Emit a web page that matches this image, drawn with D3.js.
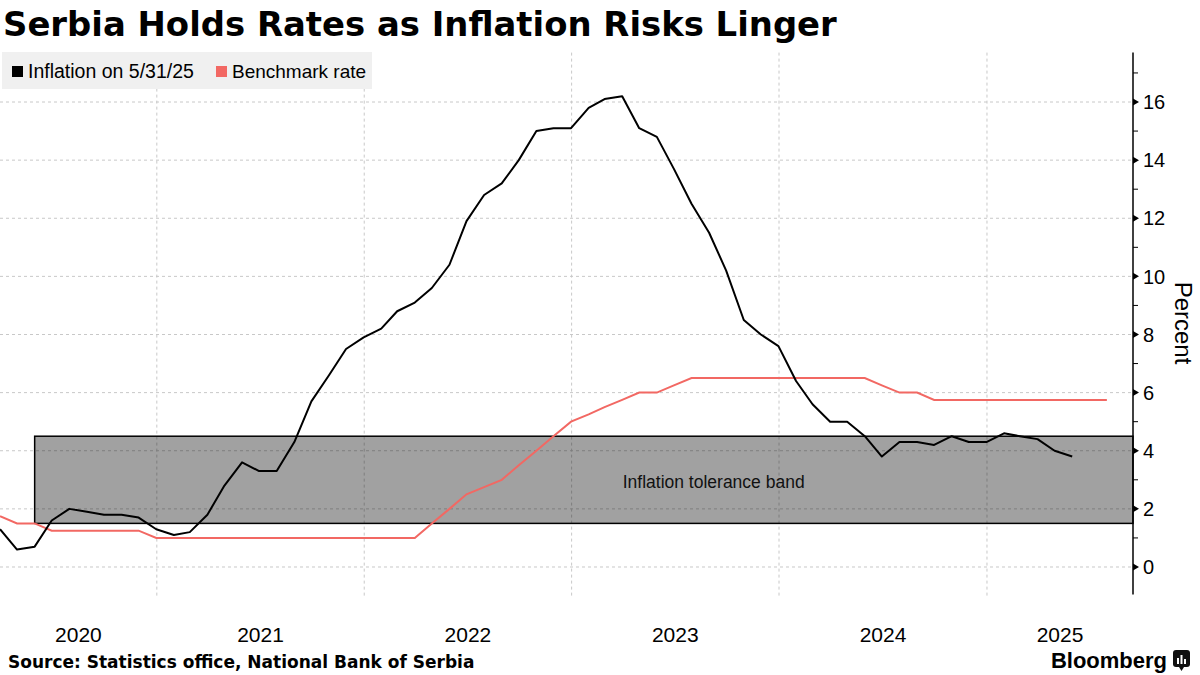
<!DOCTYPE html>
<html>
<head>
<meta charset="utf-8">
<script src="https://cdn.jsdelivr.net/npm/d3@7"></script>
<style>
  body { margin: 0; background: #fff; }
  svg { display: block; font-family: "Liberation Sans", Arial, sans-serif; }
</style>
</head>
<body>
<svg id="chart" width="1200" height="675"></svg>
<script>
// inflation, y/y %, monthly from 2020-03 to 2025-05
var inflationStart = "2020-03";
var inflation = [
  1.3, 0.6, 0.7, 1.6, 2.0, 1.9, 1.8, 1.8, 1.7, 1.3,
  1.1, 1.2, 1.8, 2.8, 3.6, 3.3, 3.3, 4.3, 5.7, 6.6, 7.5, 7.9,
  8.2, 8.8, 9.1, 9.6, 10.4, 11.9, 12.8, 13.2, 14.0, 15.0, 15.1, 15.1,
  15.8, 16.1, 16.2, 15.1, 14.8, 13.7, 12.5, 11.5, 10.2, 8.5, 8.0, 7.6,
  6.4, 5.6, 5.0, 5.0, 4.5, 3.8, 4.3, 4.3, 4.2, 4.5, 4.3, 4.3,
  4.6, 4.5, 4.4, 4.0, 3.8
];
// key policy rate, monthly from 2020-03 to 2025-07
var rateStart = "2020-03";
var rate = [
  1.75, 1.5, 1.5, 1.25, 1.25, 1.25, 1.25, 1.25, 1.25, 1.0,
  1.0, 1.0, 1.0, 1.0, 1.0, 1.0, 1.0, 1.0, 1.0, 1.0, 1.0, 1.0,
  1.0, 1.0, 1.0, 1.5, 2.0, 2.5, 2.75, 3.0, 3.5, 4.0, 4.5, 5.0,
  5.25, 5.5, 5.75, 6.0, 6.0, 6.25, 6.5, 6.5, 6.5, 6.5, 6.5, 6.5,
  6.5, 6.5, 6.5, 6.5, 6.5, 6.25, 6.0, 6.0, 5.75, 5.75, 5.75, 5.75,
  5.75, 5.75, 5.75, 5.75, 5.75, 5.75, 5.75
];
var band = [1.5, 4.5];       // tolerance band
var bandStart = "2020-05";
var yTicks = [0, 2, 4, 6, 8, 10, 12, 14, 16];
var years = [2020, 2021, 2022, 2023, 2024, 2025];

// month string -> last day of that month
function monthEnd(s) {
  var p = s.split("-");
  return new Date(+p[0], +p[1], 0);
}
function series(start, vals) {
  var d0 = monthEnd(start);
  return vals.map(function(v, i) {
    return { date: new Date(d0.getFullYear(), d0.getMonth() + i + 1, 0), value: v };
  });
}
var infData = series(inflationStart, inflation);
var rateData = series(rateStart, rate);

var svg = d3.select("#chart");
var pLeft = 0, pRight = 1133, pTop = 52.6, pBottom = 594.6;

var x = d3.scaleTime()
  .domain([new Date(2020, 2, 31), new Date(2025, 8, 15)])
  .range([pLeft, pRight]);
var y = d3.scaleLinear()
  .domain([-0.95, 17.7])
  .range([pBottom, pTop]);

svg.append("defs").append("clipPath").attr("id", "plot")
  .append("rect").attr("x", pLeft).attr("y", pTop)
  .attr("width", pRight - pLeft).attr("height", pBottom - pTop);

// title
var title = svg.append("text")
  .attr("x", 3).attr("y", 36)
  .style("font-family", "'DejaVu Sans', sans-serif")
  .style("font-weight", "bold")
  .style("font-size", "32px")
  .attr("fill", "#000")
  .text("Serbia Holds Rates as Inflation Risks Linger");
var tw = title.node().getComputedTextLength();
title.style("font-size", (32 * 834 / tw) + "px");

// grid
var grid = svg.append("g");
grid.selectAll(".hg").data(yTicks).enter().append("line")
  .attr("x1", pLeft).attr("x2", pRight)
  .attr("y1", function(d) { return y(d); })
  .attr("y2", function(d) { return y(d); })
  .attr("stroke", "#c8c8c8").attr("stroke-dasharray", "3,3");
grid.selectAll(".vg").data(years.slice(1)).enter().append("line")
  .attr("x1", function(d) { return x(new Date(d, 0, 1)); })
  .attr("x2", function(d) { return x(new Date(d, 0, 1)); })
  .attr("y1", pTop).attr("y2", pBottom + 3)
  .attr("stroke", "#c8c8c8").attr("stroke-dasharray", "3,3");

// tolerance band
var bx = x(monthEnd(bandStart));
svg.append("rect")
  .attr("x", bx)
  .attr("y", y(band[1]))
  .attr("width", pRight - bx)
  .attr("height", y(band[0]) - y(band[1]))
  .attr("fill", "rgba(0,0,0,0.37)")
  .attr("stroke", "#000").attr("stroke-width", 1.5);
svg.append("text")
  .attr("x", x(new Date(2023, 8, 8))).attr("y", 488)
  .attr("text-anchor", "middle")
  .style("font-size", "17.5px").attr("fill", "#111")
  .text("Inflation tolerance band");

// lines
var line = d3.line()
  .x(function(d) { return x(d.date); })
  .y(function(d) { return y(d.value); });
var lines = svg.append("g").attr("clip-path", "url(#plot)");
lines.append("path").datum(rateData)
  .attr("d", line).attr("fill", "none")
  .attr("stroke", "#f26863").attr("stroke-width", 2);
lines.append("path").datum(infData)
  .attr("d", line).attr("fill", "none")
  .attr("stroke", "#000").attr("stroke-width", 2)
  .attr("stroke-linejoin", "round");

// right axis
var ax = svg.append("g");
ax.append("line")
  .attr("x1", pRight).attr("x2", pRight)
  .attr("y1", pTop).attr("y2", pBottom)
  .attr("stroke", "#000").attr("stroke-width", 1.5);
ax.selectAll(".tri").data(yTicks).enter().append("path")
  .attr("d", function(d) {
    var yy = y(d);
    return "M" + pRight + "," + (yy - 3.5) + "L" + (pRight + 6) + "," + yy + "L" + pRight + "," + (yy + 3.5) + "Z";
  })
  .attr("fill", "#000");
ax.selectAll(".minor").data(d3.range(1, 18, 2)).enter().append("line")
  .attr("x1", pRight).attr("x2", pRight + 5)
  .attr("y1", function(d) { return y(d); })
  .attr("y2", function(d) { return y(d); })
  .attr("stroke", "#000");
ax.selectAll(".lab").data(yTicks).enter().append("text")
  .attr("x", pRight + 10)
  .attr("y", function(d) { return y(d); })
  .attr("dy", "0.36em")
  .style("font-size", "20px").attr("fill", "#000")
  .text(function(d) { return d; });
svg.append("text")
  .attr("transform", "translate(1175,323) rotate(90)")
  .attr("text-anchor", "middle")
  .style("font-size", "24px").attr("fill", "#000")
  .text("Percent");

// year labels, centred in the visible part of each year
svg.selectAll(".yr").data(years).enter().append("text")
  .attr("x", function(d) {
    var a = Math.max(x(new Date(d, 0, 1)), pLeft);
    var b = Math.min(x(new Date(d + 1, 0, 1)), pRight);
    return (a + b) / 2;
  })
  .attr("y", 642)
  .attr("text-anchor", "middle")
  .style("font-size", "21px").attr("fill", "#000")
  .text(function(d) { return d; });

// legend
var lg = svg.append("g");
lg.append("rect").attr("x", 2).attr("y", 52).attr("width", 370).attr("height", 37)
  .attr("fill", "#f0f0f0");
lg.append("rect").attr("x", 12).attr("y", 66).attr("width", 11).attr("height", 11).attr("fill", "#000");
lg.append("text").attr("x", 28).attr("y", 78).style("font-size", "19.5px").text("Inflation on 5/31/25");
lg.append("rect").attr("x", 216).attr("y", 66).attr("width", 11).attr("height", 11).attr("fill", "#f26863");
lg.append("text").attr("x", 232).attr("y", 78).style("font-size", "19px").text("Benchmark rate");

// footer
svg.append("text").attr("x", 8).attr("y", 668)
  .style("font-family", "'DejaVu Sans', sans-serif")
  .style("font-weight", "bold").style("font-size", "17px")
  .text("Source: Statistics office, National Bank of Serbia");
svg.append("text").attr("x", 1167).attr("y", 668)
  .attr("text-anchor", "end")
  .style("font-weight", "bold").style("font-size", "22px")
  .text("Bloomberg");
var logo = svg.append("g").attr("transform", "translate(1173,650)");
logo.append("rect").attr("width", 17).attr("height", 17).attr("rx", 3).attr("fill", "#111");
logo.append("path").attr("d", "M6,17 L8.5,21 L11,17 Z").attr("fill", "#111");
logo.selectAll(".bar").data([[4, 8], [7.5, 5], [11, 9]]).enter().append("rect")
  .attr("x", function(d) { return d[0]; })
  .attr("y", function(d) { return d[1]; })
  .attr("width", 2).attr("height", function(d) { return 14 - d[1]; })
  .attr("fill", "#fff");
</script>
</body>
</html>
